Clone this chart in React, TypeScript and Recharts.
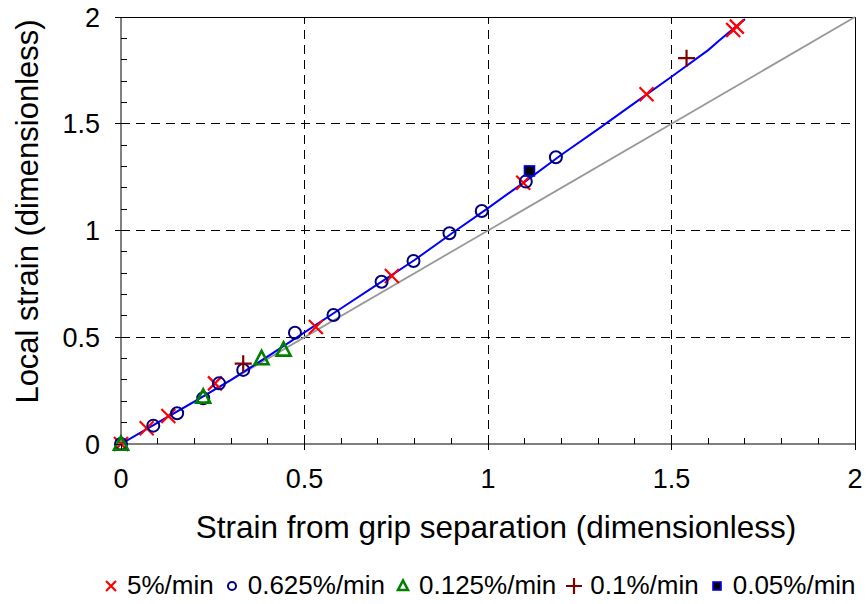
import React from "react";
import { Legend, ReferenceLine, Scatter, ScatterChart, XAxis, YAxis } from "recharts";

const majorTicks = [0, 0.5, 1, 1.5, 2];
const gridValues = [0.5, 1, 1.5];
const allTicks = [0, 0.1, 0.2, 0.3, 0.4, 0.5, 0.6, 0.7, 0.8, 0.9, 1, 1.1, 1.2, 1.3, 1.4, 1.5, 1.6, 1.7, 1.8, 1.9, 2];

// 5%/min
const rate5X = [0, 0.07, 0.129, 0.256, 0.531, 0.738, 1.096, 1.432, 1.668, 1.678];
const rate5Y = [0, 0.074, 0.131, 0.284, 0.548, 0.787, 1.224, 1.638, 1.939, 1.955];
// 0.625%/min
const rate0625X = [0, 0.088, 0.153, 0.224, 0.267, 0.333, 0.474, 0.579, 0.71, 0.797, 0.895, 0.983, 1.103, 1.185];
const rate0625Y = [0, 0.086, 0.144, 0.214, 0.284, 0.347, 0.521, 0.604, 0.76, 0.857, 0.987, 1.091, 1.229, 1.343];
// 0.125%/min
const rate0125X = [0, 0.224, 0.383, 0.443];
const rate0125Y = [0, 0.22, 0.4, 0.44];
// 0.1%/min
const rate01X = [0.333, 1.541];
const rate01Y = [0.376, 1.807];
// 0.05%/min
const rate005X = [1.113];
const rate005Y = [1.279];
// fitted curve
const fitX = [0, 0.1, 0.2, 0.3, 0.4, 0.5, 0.6, 0.7, 0.8, 0.9, 1.0, 1.1, 1.2, 1.3, 1.4, 1.5, 1.6, 1.63, 1.7];
const fitY = [0, 0.1, 0.198, 0.3, 0.41, 0.523, 0.636, 0.749, 0.862, 0.985, 1.105, 1.228, 1.355, 1.475, 1.598, 1.72, 1.845, 1.89, 1.99];
// equality line
const unityX = [0, 2];
const unityY = [0, 2];

const zip = (xs: number[], ys: number[]) => xs.map((x, i) => ({ x, y: ys[i] }));
const isMajor = (v: number) => Math.abs(v * 2 - Math.round(v * 2)) < 1e-6;

const FONT = "'Liberation Sans', Arial, sans-serif";

const Cross = ({ cx, cy, s = 7 }: any) => (
  <path d={`M${cx - s},${cy - s}L${cx + s},${cy + s}M${cx - s},${cy + s}L${cx + s},${cy - s}`} stroke="#ff0000" strokeWidth={2.2} fill="none" />
);
const Ring = ({ cx, cy, r = 6 }: any) => (
  <circle cx={cx} cy={cy} r={r} stroke="#000080" strokeWidth={2} fill="none" />
);
const Tri = ({ cx, cy, s = 7 }: any) => (
  <path d={`M${cx},${cy - s * 1.1}L${cx + s},${cy + s * 0.8}L${cx - s},${cy + s * 0.8}Z`} stroke="#008000" strokeWidth={2.6} fill="none" />
);
const Plus = ({ cx, cy, s = 8.5 }: any) => (
  <path d={`M${cx - s},${cy}L${cx + s},${cy}M${cx},${cy - s}L${cx},${cy + s}`} stroke="#800000" strokeWidth={2.2} fill="none" />
);
const Square = ({ cx, cy, s = 5 }: any) => (
  <rect x={cx - s} y={cy - s} width={s * 2} height={s * 2} fill="#000" stroke="#0000ff" strokeWidth={1.6} />
);
const NoDot = () => <g />;

// major ticks point outwards with a label, minor ticks point into the plot
function XTick({ x, y, payload }: any) {
  const v = payload.value;
  if (!isMajor(v)) return <line x1={x} x2={x} y1={y} y2={y - 6} stroke="#000" shapeRendering="crispEdges" />;
  return (
    <g>
      <line x1={x} x2={x} y1={y} y2={y + 6} stroke="#000" shapeRendering="crispEdges" />
      <text x={x} y={y + 25} dy="0.71em" textAnchor="middle" fontSize={27} fontFamily={FONT} fill="#000">
        {String(v)}
      </text>
    </g>
  );
}

function YTick({ x, y, payload }: any) {
  const v = payload.value;
  if (!isMajor(v)) return <line x1={x} x2={x + 6} y1={y} y2={y} stroke="#000" shapeRendering="crispEdges" />;
  return (
    <g>
      <line x1={x - 6} x2={x} y1={y} y2={y} stroke="#000" shapeRendering="crispEdges" />
      <text x={x - 21} y={y} dy="0.355em" textAnchor="end" fontSize={27} fontFamily={FONT} fill="#000">
        {String(v)}
      </text>
    </g>
  );
}

const legendItems = [
  { name: "5%/min", icon: <Cross cx={8} cy={10} s={5} /> },
  { name: "0.625%/min", icon: <Ring cx={8} cy={10} r={4} /> },
  { name: "0.125%/min", icon: <Tri cx={8} cy={10} s={5} /> },
  { name: "0.1%/min", icon: <Plus cx={8} cy={10} s={8} /> },
  { name: "0.05%/min", icon: <Square cx={8} cy={10} s={4} /> },
];

function renderLegend() {
  return (
    <div
      style={{
        height: 46,
        boxSizing: "border-box",
        paddingTop: 9,
        paddingLeft: 103,
        display: "flex",
        alignItems: "center",
        fontFamily: FONT,
        fontSize: 26,
        color: "#000",
        lineHeight: "29px",
      }}
    >
      {legendItems.map((item) => (
        <span key={item.name} style={{ display: "flex", alignItems: "center", marginRight: 10 }}>
          <svg width={18} height={20} style={{ marginRight: 6 }}>
            {item.icon}
          </svg>
          {item.name}
        </span>
      ))}
    </div>
  );
}

function YTitle({ viewBox }: any) {
  const cy = viewBox.y + viewBox.height / 2 - 19;
  return (
    <text x={38} y={cy} transform={`rotate(-90, 38, ${cy})`} textAnchor="middle" fontFamily={FONT} fontSize={31} fill="#000">
      Local strain (dimensionless)
    </text>
  );
}

function XTitle({ viewBox }: any) {
  const cx = viewBox.x + viewBox.width / 2 + 8;
  return (
    <text x={cx} y={538} textAnchor="middle" fontFamily={FONT} fontSize={31.5} fill="#000">
      Strain from grip separation (dimensionless)
    </text>
  );
}

export default function App() {
  return (
    <div style={{ position: "absolute", left: 0, top: 0, width: 866, height: 604, background: "#fff" }}>
      <ScatterChart width={866} height={604} margin={{ top: 17, right: 11, left: 0, bottom: 0 }}>
        <XAxis
          type="number"
          dataKey="x"
          domain={[0, 2]}
          ticks={allTicks}
          interval={0}
          height={114}
          tickSize={0}
          tickMargin={0}
          tick={<XTick />}
          tickLine={false}
          axisLine={{ stroke: "#000" }}
          label={{ content: XTitle }}
        />
        <YAxis
          type="number"
          dataKey="y"
          domain={[0, 2]}
          ticks={allTicks}
          interval={0}
          width={121}
          tickSize={0}
          tickMargin={0}
          tick={<YTick />}
          tickLine={false}
          axisLine={{ stroke: "#000" }}
          label={{ content: YTitle }}
        />
        {gridValues.map((v) => (
          <ReferenceLine key={`gx${v}`} x={v} stroke="#000" strokeDasharray="9 6" shapeRendering="crispEdges" />
        ))}
        {gridValues.map((v) => (
          <ReferenceLine key={`gy${v}`} y={v} stroke="#000" strokeDasharray="9 6" shapeRendering="crispEdges" />
        ))}
        <ReferenceLine y={majorTicks[4]} stroke="#000" ifOverflow="visible" shapeRendering="crispEdges" />
        <ReferenceLine x={majorTicks[4]} stroke="#000" ifOverflow="visible" shapeRendering="crispEdges" />
        <Legend verticalAlign="bottom" content={renderLegend} wrapperStyle={{ left: 0, width: 866 }} />
        <Scatter
          name="unity"
          data={zip(unityX, unityY)}
          line={{ stroke: "#999999", strokeWidth: 1.8 }}
          shape={NoDot}
          legendType="none"
          isAnimationActive={false}
        />
        <Scatter
          name="fit"
          data={zip(fitX, fitY)}
          line={{ stroke: "#0000ff", strokeWidth: 2 }}
          shape={NoDot}
          legendType="none"
          isAnimationActive={false}
        />
        <Scatter name="5%/min" data={zip(rate5X, rate5Y)} shape={Cross} isAnimationActive={false} />
        <Scatter name="0.625%/min" data={zip(rate0625X, rate0625Y)} shape={Ring} isAnimationActive={false} />
        <Scatter name="0.125%/min" data={zip(rate0125X, rate0125Y)} shape={Tri} isAnimationActive={false} />
        <Scatter name="0.1%/min" data={zip(rate01X, rate01Y)} shape={Plus} isAnimationActive={false} />
        <Scatter name="0.05%/min" data={zip(rate005X, rate005Y)} shape={Square} isAnimationActive={false} />
      </ScatterChart>
    </div>
  );
}
